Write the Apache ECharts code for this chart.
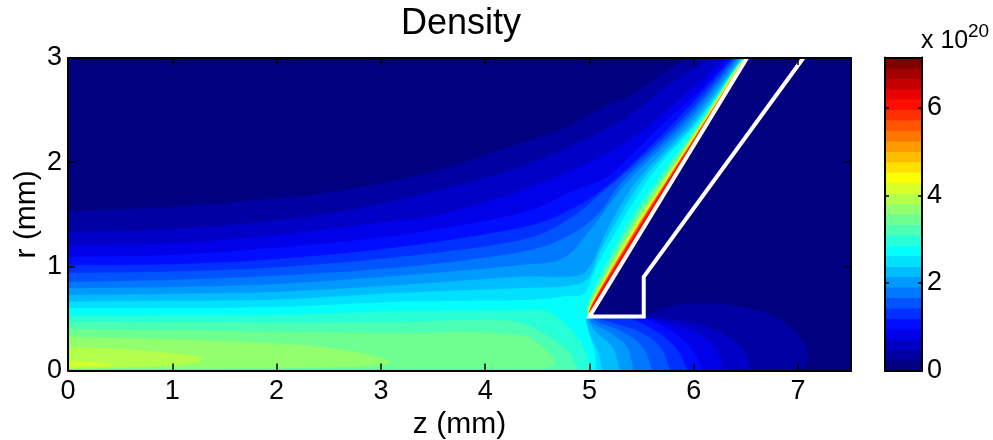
<!DOCTYPE html>
<html>
<head>
<meta charset="utf-8">
<style>html,body{margin:0;padding:0;background:#fff}#c{width:993px;height:440px}</style>
<script src="https://cdn.jsdelivr.net/npm/echarts@6/dist/echarts.min.js"></script>
</head>
<body>
<div id="c"></div>
<script>
// Contour levels of the density (units of 1e20)
const levels = [0,.24,.48,.71,.95,1.19,1.43,1.67,1.91,2.15,2.38,2.62,2.86,3.10,3.34,3.58,3.81,4.05,4.29,4.53,4.77,5.0,5.24,5.48,5.72,5.96,6.2,6.43,6.67,6.91,7.15];
const xTicks = [0,1,2,3,4,5,6,7];
const yTicks = [0,1,2,3];
const barTicks = [0,2,4,6];
// nozzle wall outline [z, r]
const wallPath = [[6.51,3],[5.0,.52],[5.52,.52],[5.52,.9],[7.05,3]];
const nozzleBody = [[6.51,3],[5.0,.52],[5.52,.52],[5.52,.9],[7.05,3]];
const wallTop = [6.51,3], wallTip = [5.0,.52];

// contour lines: upper = from z=0 to the top edge, lower = from nozzle underside to the axis
const upper1 = [[0,1.53],[1,1.57],[2,1.655],[2.51,1.71],[3.47,1.90],[4.33,2.18],[4.72,2.31],[5.2,2.56],[5.39,2.64],[5.9,2.98],[5.95,3]];
const lower1 = [[5.53,.53],[5.84,.63],[6.25,.64],[6.70,.55],[6.95,.39],[7.09,.20],[7.05,.02],[7.0,0]];
const upper2 = [[0,1.33],[1,1.36],[2,1.44],[2.51,1.51],[3.15,1.635],[4.33,1.95],[5.29,2.39],[5.75,2.74],[6.18,3]];
const lower2 = [[5.53,.52],[6.06,.44],[6.44,.245],[6.54,0]];
const upper3 = [[0,1.20],[1,1.22],[2,1.30],[3.18,1.44],[3.47,1.475],[4.33,1.72],[5.29,2.15],[5.96,2.69],[6.28,3]];
const lower3 = [[5.53,.51],[5.96,.39],[6.20,.225],[6.28,0]];
const upper4 = [[0,1.09],[1,1.11],[2,1.18],[3.18,1.30],[4.33,1.51],[4.81,1.71],[5.12,1.83],[5.29,1.96],[5.74,2.40],[6.06,2.69],[6.33,3]];
const lower4 = [[5.53,.505],[5.80,.37],[5.98,.20],[6.09,0]];
const upper5 = [[0,1.01],[1,1.02],[2,1.07],[3.18,1.185],[4.33,1.37],[4.81,1.54],[5.24,1.83],[5.83,2.40],[6.37,3]];
const lower5 = [[5.39,.505],[5.65,.37],[5.84,.20],[5.94,0]];
const upper6 = [[0,.935],[1,.95],[2,.99],[3.18,1.09],[4.33,1.25],[4.81,1.46],[5.18,1.76],[5.27,1.83],[5.88,2.40],[6.39,3]];
const lower6 = [[5.20,.465],[5.48,.37],[5.68,.225],[5.77,0]];
const upper7 = [[0,.85],[1,.87],[2,.91],[3.18,.99],[4.33,1.135],[4.81,1.30],[5.10,1.52],[5.33,1.83],[5.92,2.40],[6.41,3]];
const lower7 = [[5.10,.455],[5.32,.37],[5.51,.225],[5.60,0]];
const upper8 = [[0,.79],[1,.80],[2,.83],[3.18,.91],[4.33,1.01],[4.75,1.08],[5.03,1.38],[5.38,1.83],[5.96,2.40],[6.43,3]];
const lower8 = [[5.02,.455],[5.20,.36],[5.36,.225],[5.42,0]];
const upper9 = [[0,.725],[1,.735],[2,.755],[3.18,.82],[4.33,.90],[4.81,.90],[5.0,.99],[5.17,1.35],[5.46,1.83],[6.0,2.40],[6.45,3]];
const lower9 = [[4.98,.485],[5.07,.36],[5.22,.225],[5.29,0]];
const upper10 = [[0,.66],[1,.67],[2,.68],[3.18,.745],[4.33,.79],[4.77,.81],[4.99,.89],[5.13,1.20],[5.51,1.83],[6.03,2.40],[6.46,3]];
const lower10 = [[4.94,.50],[4.99,.36],[5.08,.18],[5.12,0]];
const upper11 = [[0,.60],[1,.60],[2,.61],[3.18,.66],[4.33,.675],[4.75,.71],[4.96,.75],[5.10,1.06],[5.56,1.83],[6.05,2.40],[6.47,3]];
const lower11 = [[4.96,.50],[4.99,.38],[5.05,.17],[5.06,0]];
// closed blobs of the higher levels near the axis (curved part, then the straight return along the axis)
const blob12 = [[0,.53],[1,.53],[2,.535],[3.18,.57],[4.33,.58],[4.55,.58],[4.75,.465],[4.93,.245],[5.01,0]];
const blob13 = [[0,.47],[1,.465],[2,.46],[3.18,.465],[3.79,.485],[4.33,.46],[4.75,.23],[4.86,.07],[4.88,0]];
const blob14 = [[0,.40],[1,.385],[2,.375],[3.18,.36],[3.79,.37],[4.33,.345],[4.45,.30],[4.62,.17],[4.66,.10],[4.6,.03],[4,.02],[0,.02]];
const blob15 = [[0,.325],[1,.30],[2,.26],[2.5,.22],[2.9,.15],[3.07,.07],[2.5,.03],[1,.02],[0,.02]];
const blob16 = [[0,.23],[.6,.20],[1.0,.17],[1.3,.12],[1.1,.06],[.5,.03],[0,.02]];
const blob17 = [[0,.09],[.35,.07],[.4,.05],[0,.04]];
// thin layers hugging the nozzle wall: wall position at given radii and each level's distance from it
const wallR = [.677,1.348,1.77,2.40,2.88];
const wallZ = [5.09,5.497,5.753,6.137,6.431];
const sliver12 = [.096,.173,.150,.070,.048];
const sliver13 = [.085,.144,.125,.062,.043];
const sliver14 = [.077,.125,.105,.055,.038];
const sliver15 = [.070,.105,.086,.050,.033];
const sliver16 = [.062,.091,.077,.043,.029];
const sliver17 = [.057,.081,.067,.038,.024];
const sliver18 = [.053,.072,.058,.034,.019];
const sliver19 = [.050,.067,.053,.030,.017];
const sliver20 = [.048,.062,.048,.028,.015];
const sliver21 = [.045,.057,.046,.026,.013];
const sliver22 = [.043,.053,.043,.024,.011];
const sliver23 = [.039,.048,.040,.020,.010];
const sliver24 = [.036,.043,.036,.017,.008];
const sliver25 = [.032,.036,.030,.012,.006];

const clamp = v => Math.max(0, Math.min(1, v));
function jet(x){
  const r = clamp(Math.min(4*x-1.5, -4*x+4.5));
  const g = clamp(Math.min(4*x-.5, -4*x+3.5));
  const b = clamp(Math.min(4*x+.5, -4*x+2.5));
  return 'rgb(' + [r,g,b].map(c => Math.round(c*255)).join(',') + ')';
}
const bandColor = i => jet(i/29);

// polygons are lists of parts; a part with curve:true is drawn as a smooth curve through its read points
const curve = pts => ({curve:true, pts});
const straight = (...pts) => ({curve:false, pts});
const polys = [];
polys.push({band:0, parts:[straight([0,0],[7.5,0],[7.5,3],[0,3])]});
const uppers=[upper1,upper2,upper3,upper4,upper5,upper6,upper7,upper8,upper9,upper10,upper11];
const lowers=[lower1,lower2,lower3,lower4,lower5,lower6,lower7,lower8,lower9,lower10,lower11];
uppers.forEach((u,i)=>polys.push({band:i+1, parts:[curve(u), straight(wallTop, wallTip), curve(lowers[i]), straight([0,0])]}));
[blob12,blob13].forEach((b,i)=>polys.push({band:i+12, parts:[curve(b), straight([0,0])]}));
[blob14,blob15,blob16,blob17].forEach((b,i)=>polys.push({band:i+14, parts:[curve(b)]}));
[sliver12,sliver13,sliver14,sliver15,sliver16,sliver17,sliver18,sliver19,sliver20,sliver21,sliver22,sliver23,sliver24,sliver25].forEach((s,i)=>{
  polys.push({band:i+12, parts:[curve([wallTip, ...s.map((d,k)=>[wallZ[k]-d, wallR[k]]), [6.49,3]]), straight(wallTop)]});
});
polys.push({band:0, parts:[straight(...nozzleBody)]});

function spline(pts){
  const out=[]; const n=pts.length;
  for(let i=0;i<n-1;i++){
    const p0=pts[Math.max(i-1,0)],p1=pts[i],p2=pts[i+1],p3=pts[Math.min(i+2,n-1)];
    for(let k=0;k<10;k++){
      const t=k/10,t2=t*t,t3=t2*t;
      out.push([0,1].map(d=>.5*(2*p1[d]+(p2[d]-p0[d])*t+(2*p0[d]-5*p1[d]+4*p2[d]-p3[d])*t2+(3*p1[d]-p0[d]-3*p2[d]+p3[d])*t3)));
    }
  }
  out.push(pts[n-1]);
  return out;
}

const font = 'Liberation Sans, Arial, Helvetica, sans-serif';
const tickFont = {fontFamily:font, fontSize:27, color:'#000'};
const lineSt = {color:'#000', width:2};
const tickSt = {color:'#000', width:1.5};
function frameAxis(extra){
  return Object.assign({type:'value', z:10, splitLine:{show:false},
    axisLine:{show:true,onZero:false,lineStyle:lineSt},
    axisTick:{show:true,inside:true,length:7,lineStyle:tickSt},
    axisLabel:{show:false}}, extra);
}
const chart = echarts.init(document.getElementById('c'), null, {renderer:'canvas'});
chart.setOption({
  animation:false,
  backgroundColor:'#fff',
  title:{text:'Density', left:456, top:1, textAlign:'center', textStyle:{fontFamily:font,fontSize:36,fontWeight:'normal',color:'#000'}},
  grid:[
    {left:68, top:58, width:783, height:312.6, outerBoundsMode:'none'},
    {left:885, top:57.5, width:37, height:313, outerBoundsMode:'none'}
  ],
  xAxis:[
    frameAxis({gridIndex:0,position:'bottom',min:0,max:7.507,
      axisTick:{show:true,inside:true,length:7,lineStyle:tickSt,customValues:xTicks},
      axisLabel:{show:true,customValues:xTicks,margin:7,...tickFont},
      name:'z (mm)',nameLocation:'middle',nameGap:36,nameTextStyle:{fontFamily:font,fontSize:30,color:'#000'}}),
    frameAxis({gridIndex:0,position:'top',min:0,max:7.507,
      axisTick:{show:true,inside:true,length:7,lineStyle:tickSt,customValues:xTicks}}),
    frameAxis({gridIndex:1,position:'bottom',min:0,max:1,axisTick:{show:false}}),
    frameAxis({gridIndex:1,position:'top',min:0,max:1,axisTick:{show:false}})
  ],
  yAxis:[
    frameAxis({gridIndex:0,position:'left',min:0,max:3,
      axisTick:{show:true,inside:true,length:7,lineStyle:tickSt,customValues:yTicks},
      axisLabel:{show:true,customValues:yTicks,margin:6,...tickFont},
      name:'r (mm)',nameLocation:'middle',nameGap:26,nameMoveOverlap:false,nameTextStyle:{fontFamily:font,fontSize:30,color:'#000'}}),
    frameAxis({gridIndex:0,position:'right',min:0,max:3,
      axisTick:{show:true,inside:true,length:7,lineStyle:tickSt,customValues:yTicks}}),
    frameAxis({gridIndex:1,position:'left',min:0,max:7.15,
      axisTick:{show:true,inside:true,length:4,lineStyle:tickSt,customValues:barTicks}}),
    frameAxis({gridIndex:1,position:'right',min:0,max:7.15,
      axisTick:{show:true,inside:true,length:4,lineStyle:tickSt,customValues:barTicks},
      axisLabel:{show:true,customValues:barTicks,margin:5,...tickFont}})
  ],
  graphic:[
    {type:'text',left:921,top:29,z:20,style:{text:'x 10',fontFamily:font,fontSize:25,fill:'#000'}},
    {type:'text',left:968,top:22,z:20,style:{text:'20',fontFamily:font,fontSize:19,fill:'#000'}}
  ],
  series:[
    {type:'custom',xAxisIndex:0,yAxisIndex:0,coordinateSystem:'cartesian2d',clip:true,silent:true,z:2,
      data:polys.map((p,i)=>[i]),
      encode:{x:0},
      renderItem:(params,api)=>{
        const p = polys[api.value(0)];
        const pts = [];
        p.parts.forEach(part=>{(part.curve?spline(part.pts):part.pts).forEach(q=>pts.push(api.coord(q)));});
        return {type:'polygon',shape:{points:pts},
          style:{fill:bandColor(p.band),stroke:bandColor(p.band),lineWidth:.3}};
      }},
    {type:'line',xAxisIndex:0,yAxisIndex:0,data:wallPath,symbol:'none',silent:true,z:5,clip:true,
      lineStyle:{color:'#fff',width:4,join:'miter'}},
    {type:'custom',xAxisIndex:2,yAxisIndex:2,coordinateSystem:'cartesian2d',clip:true,silent:true,z:2,
      data:levels.slice(0,-1).map((v,i)=>[i]),
      encode:{x:0},
      renderItem:(params,api)=>{
        const i = api.value(0);
        const a = api.coord([0,levels[i]]), b = api.coord([1,levels[i+1]]);
        return {type:'rect',shape:{x:a[0],y:b[1],width:b[0]-a[0],height:a[1]-b[1]+.5},style:{fill:bandColor(i)}};
      }}
  ]
});
</script>
</body>
</html>
